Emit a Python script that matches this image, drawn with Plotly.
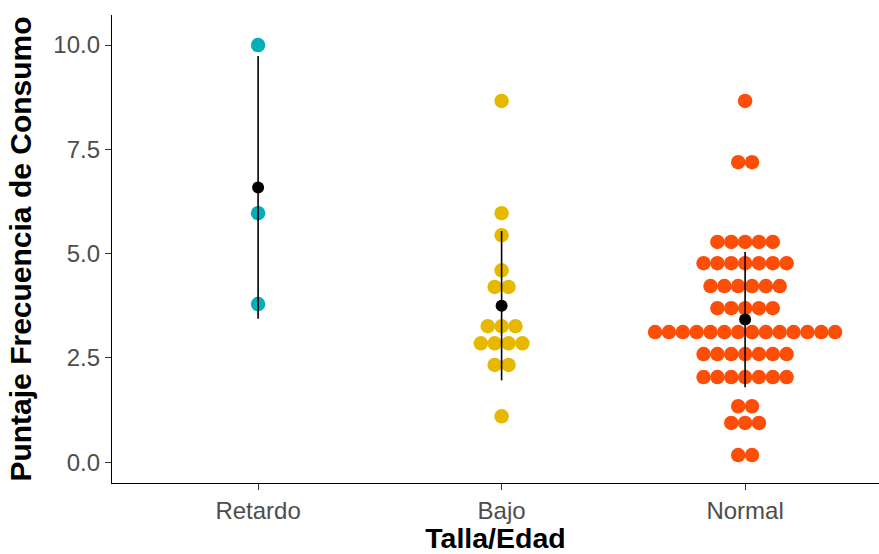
import plotly.graph_objects as go
from collections import Counter
import statistics

categories = ["Retardo", "Bajo", "Normal"]
colors = ["#00AFBB", "#E7B800", "#FC4E07"]

retardo_values = [10.0, 5.97, 3.79]
bajo_values = [8.66, 5.97, 5.44, 4.60, 4.20, 4.20,
               3.26, 3.26, 3.26, 2.85, 2.85, 2.85, 2.85,
               2.33, 2.33, 1.10]
normal_values = ([8.66] + [7.19] * 2 + [5.28] * 5 + [4.77] * 7 + [4.22] * 6 +
                 [3.69] * 5 + [3.12] * 14 + [2.59] * 7 + [2.04] * 7 +
                 [1.34] * 2 + [0.94] * 3 + [0.17] * 2)

groups = [retardo_values, bajo_values, normal_values]

px_per_cat = 243.5
dot_px = 13.85
step = dot_px / px_per_cat

fig = go.Figure()

for i, (cat, vals, col) in enumerate(zip(categories, groups, colors)):
    xc = i + 1
    counts = Counter(vals)
    xs, ys = [], []
    for v, n in counts.items():
        for k in range(n):
            xs.append(xc + (k - (n - 1) / 2) * step)
            ys.append(v)
    fig.add_trace(go.Scatter(x=xs, y=ys, mode="markers",
                             marker=dict(color=col, size=14.5, line=dict(width=0)),
                             showlegend=False, hoverinfo="skip"))

for i, vals in enumerate(groups):
    xc = i + 1
    m = statistics.mean(vals)
    sd = statistics.stdev(vals)
    fig.add_trace(go.Scatter(x=[xc, xc], y=[m - sd, m + sd], mode="lines",
                             line=dict(color="black", width=1.6),
                             showlegend=False, hoverinfo="skip"))
    fig.add_trace(go.Scatter(x=[xc], y=[m], mode="markers",
                             marker=dict(color="black", size=12),
                             showlegend=False, hoverinfo="skip"))

x0 = 0.4
x1 = x0 + (879 - 112) / px_per_cat

fig.update_layout(
    width=879, height=554,
    margin=dict(l=112, r=0, t=15, b=71),
    plot_bgcolor="white", paper_bgcolor="white",
    font=dict(family="Liberation Sans, Arial, sans-serif", color="#4d4d4d", size=16),
    xaxis=dict(range=[x0, x1], tickmode="array", tickvals=[1, 2, 3],
               ticktext=categories, showgrid=False, zeroline=False,
               showline=True, linecolor="black", linewidth=1.3,
               ticks="outside", ticklen=6, tickcolor="#333333", tickwidth=1.3,
               tickfont=dict(size=24, color="#4d4d4d"),
               title=dict(text="<b>Talla/Edad</b>", standoff=2,
                          font=dict(size=28.5, color="black"))),
    yaxis=dict(range=[-0.50, 10.72], tickmode="array",
               tickvals=[0, 2.5, 5, 7.5, 10],
               ticktext=["0.0", "2.5", "5.0", "7.5", "10.0"],
               showgrid=False, zeroline=False,
               showline=True, linecolor="black", linewidth=1.3,
               ticks="outside", ticklen=6, tickcolor="#333333", tickwidth=1.3,
               tickfont=dict(size=24, color="#4d4d4d"),
               title=dict(text="<b>Puntaje Frecuencia de Consumo</b>", standoff=12,
                          font=dict(size=30, color="black"))),
)

fig.write_html("out.html", config={"displayModeBar": False},
               post_script="document.body.style.margin='0';")
